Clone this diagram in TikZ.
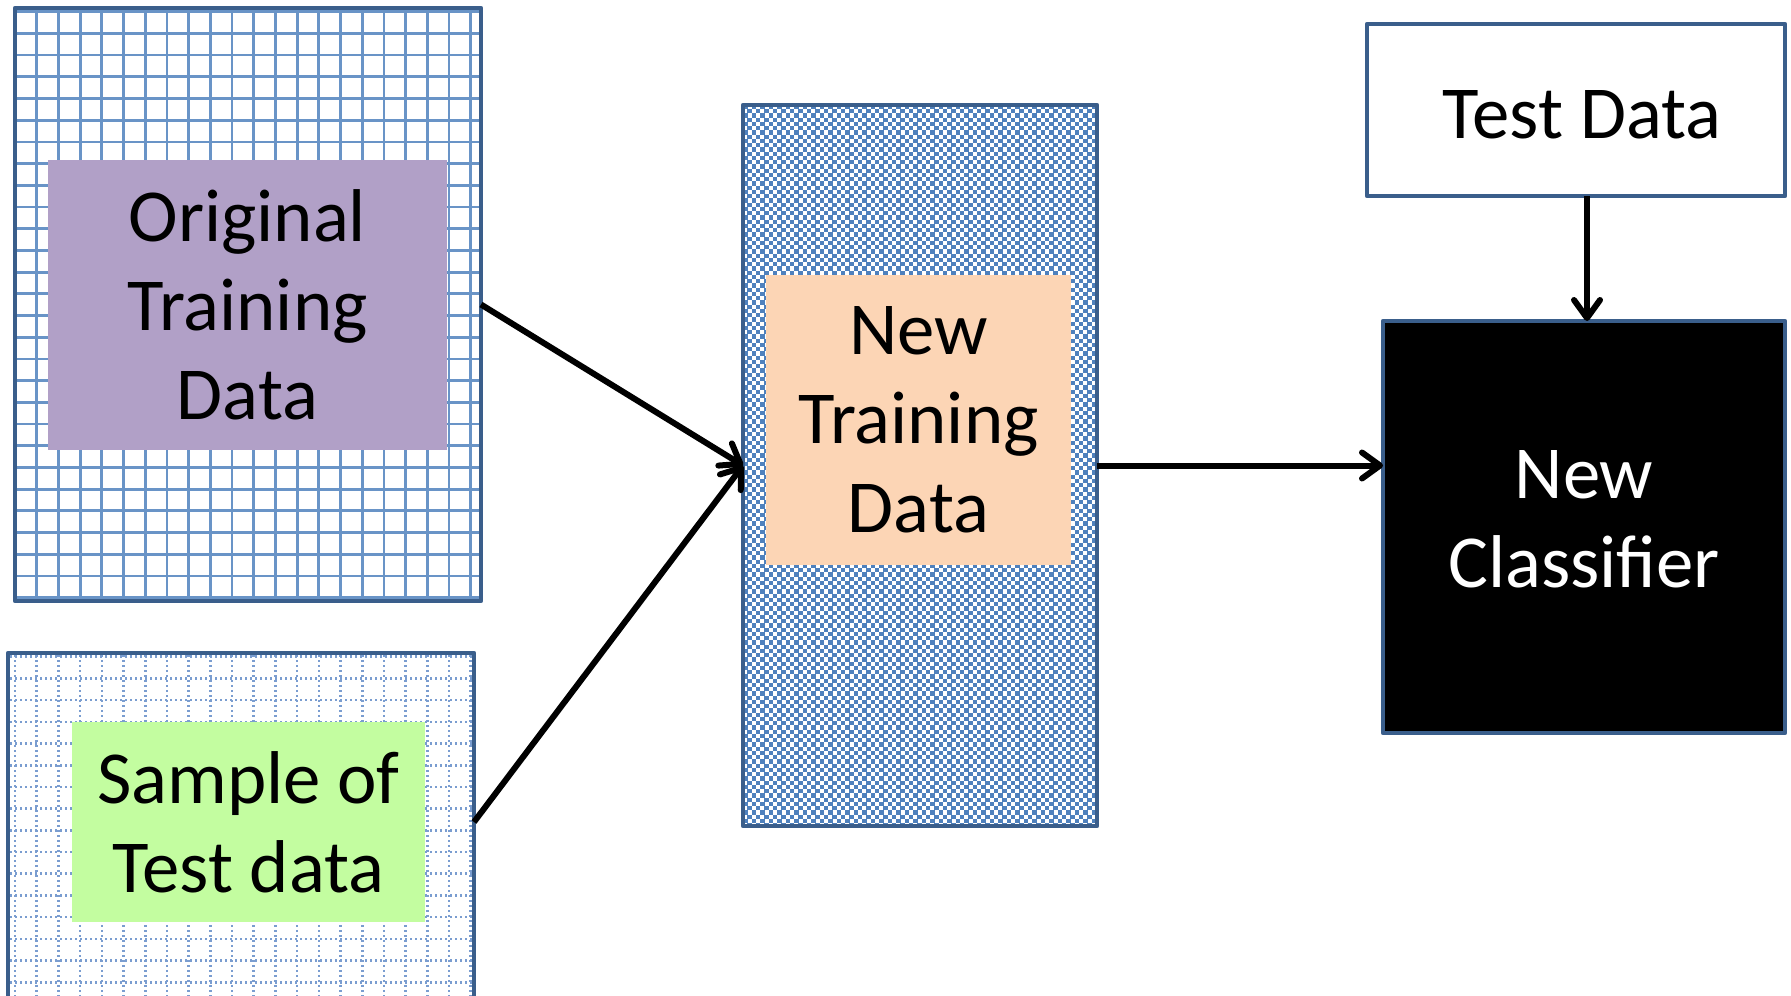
\documentclass[tikz,border=0pt]{standalone}
\usepackage{fontspec}
\setmainfont{Carlito}
\usetikzlibrary{arrows.meta}
\definecolor{framecol}{RGB}{58,94,139}
\definecolor{gridblue}{RGB}{79,129,189}
\definecolor{dotblue}{RGB}{98,140,200}
\definecolor{lilac}{RGB}{177,160,199}
\definecolor{peach}{RGB}{252,213,181}
\definecolor{lime}{RGB}{195,253,160}
\begin{document}
\begin{tikzpicture}[x=0.5pt,y=-0.5pt,
  outer/.style={fill=white, inner sep=0pt, outer sep=0pt},
  border/.style={draw=framecol, line width=2.25pt, line join=round},
  plain/.style={border, fill=white, inner sep=0pt, outer sep=0pt},
  label/.style={inner sep=0pt, outer sep=0pt, align=center,
    font=\fontsize{37.4}{44.5}\selectfont},
  gridline/.style={gridblue!85, line width=1.4pt},
  dotline/.style={dotblue!85, line width=1.3pt, dash pattern=on 1.2pt off 1.3pt},
  checker/.style={gridblue, line width=2.125pt, dash pattern=on 2.25pt off 2pt},
  arr/.style={line width=3pt, -{Straight Barb[length=9pt,width=13pt,round]}},
]
\useasboundingbox (0,0) rectangle (1791,995);
\clip (0,0) rectangle (1791,995);

% ---- original training data: square grid ----
\node[outer, minimum width=233pt, minimum height=296.5pt] (orig) at (248,304.5) {};
\begin{scope}
  \clip (orig.south west) rectangle (orig.north east);
  \foreach \i in {0,...,22} \draw[gridline] (15+\i*21.7,0) -- (15+\i*21.7,620);
  \foreach \j in {0,...,28} \draw[gridline] (0,11.7+\j*21.7) -- (500,11.7+\j*21.7);
\end{scope}
\draw[border] (orig.south west) rectangle (orig.north east);
\node[label, fill=lilac, minimum width=199.5pt, minimum height=145pt] (origtxt)
  at (247.5,305) {Original\\Training\\Data};

% ---- sample of test data: dotted grid ----
\node[outer, minimum width=233pt, minimum height=178.5pt] (sample) at (241,831.5) {};
\begin{scope}
  \clip (sample.south west) rectangle (sample.north east);
  \foreach \i in {0,...,22} \draw[dotline] (15+\i*21.7,650) -- (15+\i*21.7,1020);
  \foreach \j in {0,...,17} \draw[dotline] (0,656.7+\j*21.7) -- (500,656.7+\j*21.7);
\end{scope}
\draw[border] (sample.south west) rectangle (sample.north east);
\node[label, fill=lime, minimum width=176.5pt, minimum height=100pt] (sampletxt)
  at (248.5,822) {Sample of\\Test data};

% ---- new training data: checkerboard ----
\node[outer, minimum width=177pt, minimum height=360.5pt] (mid) at (920,465.5) {};
\begin{scope}
  \clip (mid.south west) rectangle (mid.north east);
  \foreach \r in {0,2,...,172} \draw[checker] (743,107+4.25*\r) -- (1100,107+4.25*\r);
  \foreach \r in {1,3,...,171} \draw[checker, dash phase=2.125pt] (743,107+4.25*\r) -- (1100,107+4.25*\r);
\end{scope}
\draw[border] (mid.south west) rectangle (mid.north east);
\node[label, fill=peach, minimum width=152.5pt, minimum height=145pt] (midtxt)
  at (918.5,420) {New\\Training\\Data};

% ---- test data and classifier ----
\node[plain, minimum width=209pt, minimum height=86pt] (test) at (1576,110) {};
\node[label] at ([xshift=3pt,yshift=-2.5pt]test.center) {Test Data};
\node[plain, fill=black, minimum width=201pt, minimum height=206pt] (cls) at (1584,527) {};
\node[label, text=white] at ([yshift=4pt]cls.center) {New\\Classifier};

% ---- connectors ----
\draw[arr] (orig.east) -- (mid.west);
\draw[arr] (sample.east |- sampletxt.east) -- (mid.west);
\draw[arr] (mid.east) -- (mid.east -| cls.west);
\draw[arr] ([xshift=1.5pt]cls.north |- test.south) -- ([xshift=1.5pt]cls.north);
\end{tikzpicture}
\end{document}
